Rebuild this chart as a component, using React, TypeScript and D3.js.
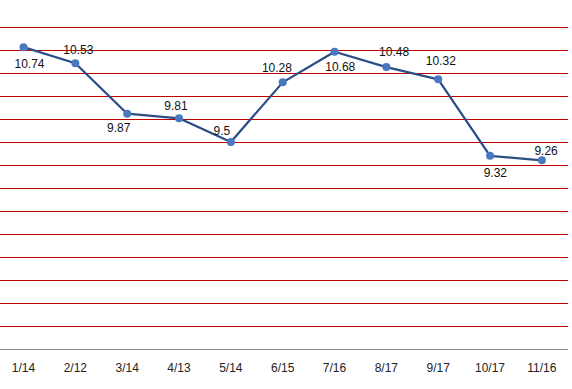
import React, { useEffect, useRef } from "react";
import * as d3 from "d3";

const categories = ["1/14", "2/12", "3/14", "4/13", "5/14", "6/15", "7/16", "8/17", "9/17", "10/17", "11/16"];
const values = [10.74, 10.53, 9.87, 9.81, 9.5, 10.28, 10.68, 10.48, 10.32, 9.32, 9.26];
const yTicks = [6.8, 7.1, 7.4, 7.7, 8.0, 8.3, 8.6, 8.9, 9.2, 9.5, 9.8, 10.1, 10.4, 10.7, 11.0];
// data-label nudges (pixels, relative to each point)
const labelDx = [6, 3, -8.4, -3, -9, -5.8, 5.7, 7.7, 2.6, 5.3, 4.2];
const labelDy = [21, -9.3, 18, -8.4, -7, -10.8, 19.2, -11.4, -14.3, 20.8, -5.5];

const W = 572;
const H = 389;

export default function App() {
  const ref = useRef<SVGSVGElement>(null);

  useEffect(() => {
    const svg = d3.select(ref.current);
    svg.selectAll("*").remove();

    const x = d3.scaleBand<string>().domain(categories).range([-2.4, 567.8]).padding(0);
    const cx = (c: string) => (x(c) as number) + x.bandwidth() / 2;
    const y = d3.scaleLinear().domain([6.8, 11.0]).range([348.5, 27.3]);

    const font = "'Liberation Sans', Arial, sans-serif";

    // gridlines
    svg
      .append("g")
      .selectAll("line")
      .data(yTicks.slice(1))
      .join("line")
      .attr("x1", 0)
      .attr("x2", 568)
      .attr("y1", (d) => Math.round(y(d)) + 0.5)
      .attr("y2", (d) => Math.round(y(d)) + 0.5)
      .attr("stroke", "#C00000")
      .attr("stroke-width", 1.2);

    // x axis line
    svg
      .append("line")
      .attr("x1", 0)
      .attr("x2", 568)
      .attr("y1", Math.round(y(yTicks[0])) + 0.5)
      .attr("y2", Math.round(y(yTicks[0])) + 0.5)
      .attr("stroke", "#888888")
      .attr("stroke-width", 1.2);

    // x labels
    svg
      .append("g")
      .selectAll("text")
      .data(categories)
      .join("text")
      .attr("x", (d) => cx(d))
      .attr("y", 371.5)
      .attr("text-anchor", "middle")
      .attr("font-family", font)
      .attr("font-size", 12)
      .attr("fill", "#222")
      .text((d) => d);

    const pts = categories.map((c, i) => ({ c, v: values[i], dx: labelDx[i], dy: labelDy[i] }));

    const line = d3
      .line<{ c: string; v: number }>()
      .x((d) => cx(d.c))
      .y((d) => y(d.v));

    svg
      .append("path")
      .datum(pts)
      .attr("d", line)
      .attr("fill", "none")
      .attr("stroke", "#2A4D86")
      .attr("stroke-width", 2.25)
      .attr("stroke-linejoin", "round");

    svg
      .append("g")
      .selectAll("circle")
      .data(pts)
      .join("circle")
      .attr("cx", (d) => cx(d.c))
      .attr("cy", (d) => y(d.v))
      .attr("r", 4)
      .attr("fill", "#4A78C0");

    svg
      .append("g")
      .selectAll("text")
      .data(pts)
      .join("text")
      .attr("x", (d) => cx(d.c) + d.dx)
      .attr("y", (d) => y(d.v) + d.dy)
      .attr("text-anchor", "middle")
      .attr("font-family", font)
      .attr("font-size", 12)
      .attr("fill", "#111")
      .text((d) => String(d.v));
  }, []);

  return (
    <svg
      ref={ref}
      width={W}
      height={H}
      style={{ position: "absolute", left: 0, top: 0, background: "#fff" }}
    />
  );
}
